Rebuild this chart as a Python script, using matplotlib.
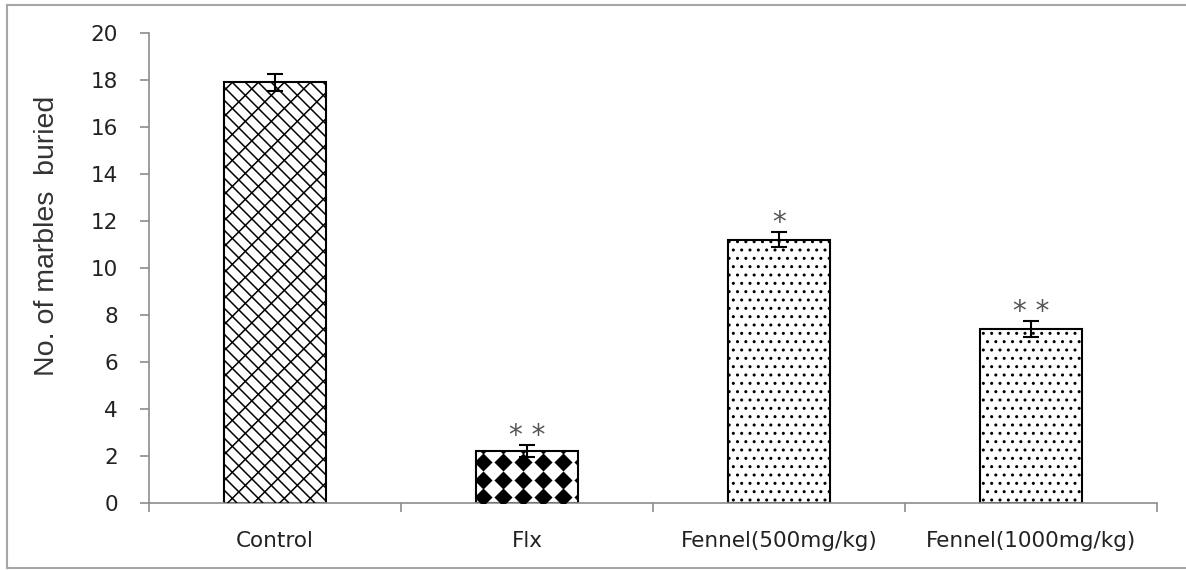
import numpy as np
import matplotlib
matplotlib.use('Agg')
import matplotlib.pyplot as plt
from matplotlib.lines import Line2D
from matplotlib.collections import LineCollection
from matplotlib.transforms import IdentityTransform

groups = ['Control', 'Flx', 'Fennel(500mg/kg)', 'Fennel(1000mg/kg)']
marbles = [17.9, 2.2, 11.2, 7.4]
sem = [0.37, 0.26, 0.32, 0.34]
stars = ['', '* *', '*', '* *']

plt.rcParams['font.family'] = ['DejaVu Sans']

fig = plt.figure(figsize=(11.86, 5.70), dpi=100)
ax = fig.add_axes([149 / 1186, 1 - 503 / 570, (1157 - 149) / 1186, (503 - 33) / 570])
ax.set_xlim(-0.5, 3.5)
ax.set_ylim(0, 20)

# grey frame round the chart (the right side is cut off in the original)
fl, ft, fb = 7 / 1186, 1 - 5 / 570, 2 / 570
for xs, ys in [([fl, 1], [ft, ft]), ([fl, fl], [fb, ft]), ([fl, 1], [fb, fb])]:
    fig.add_artist(Line2D(xs, ys, transform=fig.transFigure, color='#a6a6a6', linewidth=1.5))

x = np.arange(len(groups))
hatches = ['', '', '..', '..']
bars = ax.bar(x, marbles, width=0.405, color='white', edgecolor='black', linewidth=1.5,
              hatch=hatches, zorder=2)
ax.errorbar(x, marbles, yerr=sem, fmt='none', ecolor='black', elinewidth=1.5,
            capsize=6, capthick=1.5, zorder=4)


def brick_fill(bar, step=13):
    # slanted brick texture, drawn in pixels and clipped to the bar
    bb = bar.get_window_extent()
    h = bb.height
    segs = []
    for i, c in enumerate(np.arange(bb.x0 - h - step, bb.x1 + step, step)):
        segs.append([(c, bb.y1), (c + h, bb.y0)])
        start = (i % 2) * step / 2
        for t in np.arange(start, h + step, step):
            px, py = c + t, bb.y1 - t
            segs.append([(px, py), (px - step / 2, py - step / 2)])
    lc = LineCollection(segs, colors='black', linewidths=1.1, transform=IdentityTransform(),
                        zorder=3)
    ax.add_collection(lc)
    lc.set_clip_path(bar)


def diamond_fill(bar):
    # black diamonds on a grid, clipped to the bar
    bx0, bw, bh = bar.get_x(), bar.get_width(), bar.get_height()
    dx, dy = 20 / 252, 17.5 / 23.5
    cols = np.arange(bx0 + 7 / 252, bx0 + bw + dx, dx)
    rows = np.arange(6 / 23.5, bh + dy, dy)
    gx, gy = np.meshgrid(cols, rows)
    pts = ax.scatter(gx.ravel(), gy.ravel(), marker='D', s=85, color='black', linewidths=0,
                     zorder=3)
    pts.set_clip_path(bar)


brick_fill(bars[0])
diamond_fill(bars[1])

for xi, v, e, s in zip(x, marbles, sem, stars):
    if s:
        ax.annotate(s, (xi, v + e), xytext=(0, 1), textcoords='offset points',
                    ha='center', va='baseline', fontsize=20, color='#555555')

ax.set_yticks(range(0, 21, 2))
ax.set_xticks(x)
ax.set_xticklabels(groups, fontsize=15.5, color='#222222')
ax.set_xticks(np.arange(-0.5, 3.6, 1), minor=True)
ax.tick_params(axis='x', which='major', length=0, pad=20)
ax.tick_params(axis='x', which='minor', length=6.5, width=1.2, color='#8c8c8c')
ax.tick_params(axis='y', length=6.5, width=1.2, color='#8c8c8c', labelsize=15.5,
               labelcolor='#222222', pad=16)
for side in ['top', 'right']:
    ax.spines[side].set_visible(False)
for side in ['left', 'bottom']:
    ax.spines[side].set_color('#8c8c8c')
    ax.spines[side].set_linewidth(1.2)

ax.set_ylabel('No. of marbles  buried', fontsize=20.5, color='#333333',
              family=['Liberation Sans Narrow', 'Liberation Sans'], va='center')
ax.yaxis.set_label_coords(-0.101, 0.568)

plt.savefig('out.png', dpi=100)
